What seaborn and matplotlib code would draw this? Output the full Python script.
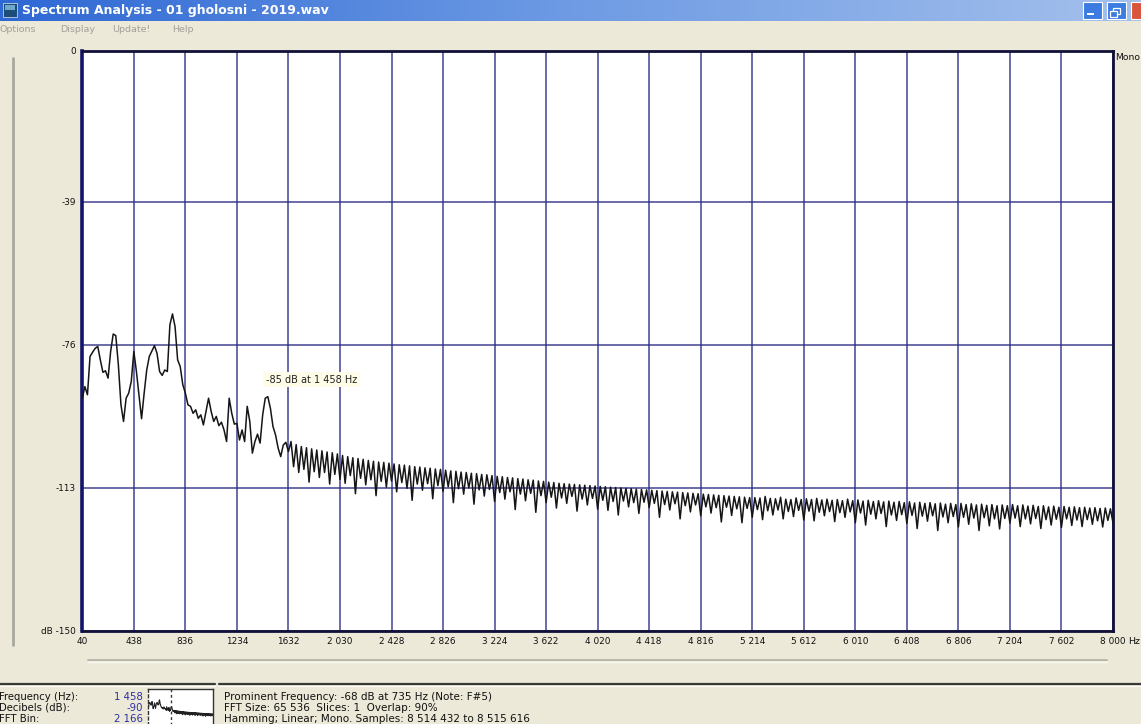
import numpy as np
import pandas as pd
import matplotlib
matplotlib.use("Agg")
import matplotlib.pyplot as plt
import seaborn as sns
from matplotlib.lines import Line2D
from matplotlib.patches import Rectangle
from matplotlib.colors import LinearSegmentedColormap

# ---------------------------------------------------------------------------
# Spectrum values (dB), one per FFT display bin starting at 40 Hz
# ---------------------------------------------------------------------------
BIN_START_HZ = 40.0
BIN_STEP_HZ = 19.9

# 40 Hz .. 1632 Hz: low band with the voice harmonics
db_low = [
    -89.8, -86.8, -88.9, -79.0, -77.9, -76.9, -76.4, -79.9, -83.1, -82.7,
    -84.6, -77.7, -73.2, -73.6, -81.2, -91.5, -95.8, -89.8, -88.5, -85.5,
    -77.7, -82.9, -88.9, -95.1, -88.5, -82.5, -79.0, -77.6, -76.2, -78.2,
    -82.9, -83.9, -82.5, -82.9, -70.8, -68.0, -71.3, -79.9, -81.6, -86.3,
    -88.5, -91.5, -91.9, -93.7, -92.8, -95.0, -94.1, -96.7, -93.2, -89.8,
    -93.2, -95.8, -94.5, -96.9, -96.0, -98.0, -101.0, -89.8, -93.7, -96.5,
    -96.3, -100.6, -98.0, -101.0, -91.9, -95.8, -104.0, -101.0, -99.1, -101.4,
    -94.1, -89.8, -89.4, -92.4, -97.1, -99.3, -102.7, -104.9, -101.9, -101.2,
    -103.6,
]

# 1632 Hz .. 3224 Hz
db_mid_low = [
    -101.0, -107.5, -101.8, -109.0, -102.3, -108.2, -102.6, -111.5, -102.9, -108.8,
    -103.2, -110.3, -103.4, -109.0, -103.7, -112.0, -103.9, -109.5, -104.2, -110.8,
    -104.6, -111.8, -104.9, -109.8, -105.2, -114.5, -105.4, -110.5, -105.6, -112.2,
    -105.9, -110.9, -106.1, -115.0, -106.3, -111.3, -106.4, -112.8, -106.6, -111.2,
    -106.8, -114.0, -107.0, -111.6, -107.1, -113.1, -107.3, -116.2, -107.5, -112.0,
    -107.6, -113.6, -107.8, -111.9, -107.9, -115.8, -108.1, -112.4, -108.2, -113.9,
    -108.4, -112.7, -108.6, -116.8, -108.7, -113.2, -108.9, -114.6, -109.0, -113.0,
    -109.2, -117.2, -109.3, -113.5, -109.5, -115.1, -109.6, -113.4, -109.8, -116.5,
]

# 3224 Hz .. 4816 Hz
db_mid = [
    -110.0, -114.2, -110.1, -115.9, -110.3, -114.0, -110.4, -118.6, -110.6, -114.6,
    -110.7, -116.3, -110.9, -114.4, -111.0, -119.3, -111.2, -115.0, -111.3, -116.8,
    -111.5, -115.4, -111.6, -118.2, -111.8, -115.6, -111.9, -117.0, -112.0, -115.2,
    -112.1, -119.0, -112.2, -115.9, -112.3, -117.4, -112.4, -115.7, -112.5, -118.5,
    -112.6, -116.2, -112.7, -118.8, -112.8, -116.5, -112.9, -120.0, -113.0, -116.4,
    -113.1, -117.9, -113.2, -116.8, -113.3, -119.6, -113.4, -116.7, -113.5, -118.1,
    -113.6, -117.0, -113.7, -120.6, -113.8, -117.3, -113.9, -118.7, -114.0, -117.1,
    -114.1, -121.0, -114.2, -117.6, -114.3, -119.2, -114.4, -117.4, -114.5, -120.2,
]

# 4816 Hz .. 6408 Hz
db_mid_high = [
    -114.6, -117.9, -114.7, -119.5, -114.8, -118.1, -114.9, -121.8, -115.0, -118.0,
    -115.1, -120.1, -115.2, -118.4, -115.3, -122.0, -115.4, -118.3, -115.5, -120.6,
    -115.5, -118.6, -115.6, -121.2, -115.2, -118.9, -115.7, -120.0, -115.8, -118.7,
    -115.4, -121.0, -115.9, -119.1, -116.0, -120.4, -115.6, -118.8, -116.0, -121.3,
    -115.8, -119.0, -116.0, -121.5, -115.7, -119.3, -116.1, -120.2, -115.9, -119.1,
    -116.2, -121.7, -116.0, -119.4, -116.3, -120.6, -115.9, -119.2, -116.3, -122.0,
    -116.1, -119.5, -116.4, -122.6, -116.2, -119.8, -116.5, -121.0, -116.3, -119.6,
    -116.6, -123.0, -116.4, -120.0, -116.7, -121.4, -116.5, -119.9, -116.8, -122.2,
]

# 6408 Hz .. 8000 Hz
db_high = [
    -116.6, -120.1, -116.9, -123.5, -116.7, -120.3, -117.0, -121.6, -116.8, -120.2,
    -117.1, -124.0, -116.9, -120.5, -117.2, -122.0, -117.0, -120.4, -117.3, -123.1,
    -117.0, -120.6, -117.3, -122.4, -117.1, -120.8, -117.4, -124.0, -117.2, -120.7,
    -117.5, -122.8, -117.3, -121.0, -117.6, -123.6, -117.4, -120.9, -117.6, -122.1,
    -117.3, -120.8, -117.6, -123.0, -117.4, -121.0, -117.7, -122.3, -117.5, -120.9,
    -117.8, -123.5, -117.6, -121.2, -117.9, -122.6, -117.7, -121.1, -118.0, -123.2,
    -117.8, -121.0, -118.0, -122.7, -117.9, -121.3, -118.1, -123.0, -118.0, -121.2,
    -118.2, -122.4, -118.1, -121.5, -118.3, -123.1, -118.2, -121.4, -118.4, -122.0,
]

x_ticks = [40, 438, 836, 1234, 1632, 2030, 2428, 2826, 3224, 3622, 4020,
           4418, 4816, 5214, 5612, 6010, 6408, 6806, 7204, 7602, 8000]
x_tick_labels = ["40", "438", "836", "1234", "1632", "2 030", "2 428", "2 826",
                 "3 224", "3 622", "4 020", "4 418", "4 816", "5 214", "5 612",
                 "6 010", "6 408", "6 806", "7 204", "7 602", "8 000"]
y_ticks = [0, -39, -76, -113, -150]
y_tick_labels = ["0", "-39", "-76", "-113", "dB -150"]

cursor_hz, cursor_db = 1458, -85
window_title = "Spectrum Analysis - 01 gholosni - 2019.wav"
menu_items = ["Options", "Display", "Update!", "Help"]
status_labels = ["Frequency (Hz):", "Decibels (dB):", "FFT Bin:"]
status_values = ["1 458", "-90", "2 166"]
info_lines = [
    "Prominent Frequency: -68 dB at 735 Hz (Note: F#5)",
    "FFT Size: 65 536  Slices: 1  Overlap: 90%",
    "Hamming; Linear; Mono. Samples: 8 514 432 to 8 515 616",
]

db_all = db_low + db_mid_low + db_mid + db_mid_high + db_high
spec = pd.DataFrame({
    "freq": BIN_START_HZ + BIN_STEP_HZ * np.arange(len(db_all)),
    "db": db_all,
})

# ---------------------------------------------------------------------------
sns.set_theme(style="white")
plt.rcParams["font.family"] = ["DejaVu Sans"]

W, H = 1141, 724
BG = "#ECE9D8"
NAVY = "#2E2E86"
fig = plt.figure(figsize=(W / 100, H / 100), dpi=100, facecolor=BG)


def fx(x):
    return x / W


def fy(y):
    return 1 - y / H


def fline(xs, ys, color, lw=1.0, ls="-"):
    fig.add_artist(Line2D([fx(v) for v in xs], [fy(v) for v in ys],
                          color=color, lw=lw, ls=ls, transform=fig.transFigure))


def frect(x0, y0, x1, y1, fc, ec="none", lw=0.0):
    fig.add_artist(Rectangle((fx(x0), fy(y1)), fx(x1) - fx(x0), fy(y0) - fy(y1),
                             facecolor=fc, edgecolor=ec, lw=lw,
                             transform=fig.transFigure))


# window title bar
tb = fig.add_axes([0, fy(21), 1, 21 / H])
grad = LinearSegmentedColormap.from_list("title", ["#2E68D4", "#6E9BE4", "#A4C0EC"])
tb.imshow(np.linspace(0, 1, 256)[None, :], cmap=grad, aspect="auto",
          extent=(0, 1, 0, 1))
tb.set_axis_off()
frect(3, 3, 17, 17, "#1D4E7A", ec="#BFD0EA", lw=0.6)
frect(5, 5, 15, 10, "#6FA8C8")
fig.text(fx(22), fy(10.5), window_title, color="white", fontsize=9.0,
         fontweight="bold", ha="left", va="center")
for x0, col in [(1083, "#3C7BE0"), (1107, "#3C7BE0"), (1131, "#D9553D")]:
    frect(x0, 2, x0 + 19, 19, col, ec="white", lw=0.8)
frect(1087, 13, 1094, 15, "white")
frect(1113, 8, 1120, 14, "none", ec="white", lw=0.9)
frect(1110, 11, 1117, 17, "#3C7BE0", ec="white", lw=0.9)

# menu bar
for label, x0 in zip(menu_items, [0, 60, 112, 172]):
    fig.text(fx(x0), fy(30), label, color="#A2A09A", fontsize=6.8,
             ha="left", va="center")

# slider track on the left
fline([13, 13], [58, 645], "#A9A89E", lw=2.0)

# main spectrum axes
ax = fig.add_axes([fx(82.3), fy(631), (1113 - 82.3) / W, (631 - 51) / H])
ax.set_facecolor("white")
sns.lineplot(data=spec, x="freq", y="db", ax=ax, color="#151515",
             linewidth=1.1, zorder=3)
ax.set_xlim(40, 8000)
ax.set_ylim(-150, 0)
ax.set_xticks(x_ticks)
ax.set_xticklabels(x_tick_labels)
ax.set_yticks(y_ticks)
ax.set_yticklabels(y_tick_labels)
ax.set_xlabel("")
ax.set_ylabel("")
ax.grid(True, color=NAVY, linewidth=1.1, alpha=0.9, zorder=1)
for side in ["top", "right", "bottom"]:
    ax.spines[side].set_color("#101038")
    ax.spines[side].set_linewidth(2.0)
ax.spines["left"].set_color("#14146A")
ax.spines["left"].set_linewidth(2.6)
ax.tick_params(axis="both", direction="out", length=3, width=0.8,
               color="#333333", labelsize=6.4, labelcolor="#111111", pad=1.5)
ax.text(cursor_hz, cursor_db, "-85 dB at 1 458 Hz", fontsize=7, color="#222222",
        ha="left", va="center", zorder=4,
        bbox=dict(boxstyle="square,pad=0.25", facecolor="#FFFDE8",
                  edgecolor="none"))

fig.text(fx(1128), fy(642), "Hz", fontsize=6.8, color="#111111",
         ha="left", va="center")
fig.text(fx(1115), fy(58), "Mono", fontsize=6.6, color="#111111",
         ha="left", va="center")

# scroll track under the plot
fline([88, 1107], [660, 660], "#B9B7AA", lw=1.4)
fline([88, 1107], [662, 662], "#FAFAF5", lw=1.0)

# status panels
fline([0, 215], [683.5, 683.5], "#3A3A36", lw=1.6)
fline([219, 1141], [683.5, 683.5], "#3A3A36", lw=1.6)
fline([0, 215], [685.5, 685.5], "#FFFFFF", lw=0.8)
fline([219, 1141], [685.5, 685.5], "#FFFFFF", lw=0.8)

for i, (lab, val) in enumerate(zip(status_labels, status_values)):
    yy = 697 + 11 * i
    fig.text(fx(-1), fy(yy), lab, fontsize=7.3, color="#111111",
             ha="left", va="center")
    fig.text(fx(143), fy(yy), val, fontsize=7.3, color="#2D2DA0",
             ha="right", va="center")

for i, line in enumerate(info_lines):
    fig.text(fx(224), fy(697 + 11 * i), line, fontsize=7.5, color="#111111",
             ha="left", va="center")

# miniature overview of the spectrum
mini = fig.add_axes([fx(148), fy(726), (213 - 148) / W, (726 - 689) / H])
mini.set_facecolor("white")
sns.lineplot(data=spec, x="freq", y="db", ax=mini, color="#222222",
             linewidth=0.8)
mini.set_xlim(40, 4000)
mini.set_ylim(-150, -34)
mini.set_xticks([])
mini.set_yticks([])
mini.set_xlabel("")
mini.set_ylabel("")
mini.spines["left"].set_linestyle((0, (2, 2)))
mini.spines["left"].set_color("#333333")
mini.spines["top"].set_color("#333333")
mini.spines["right"].set_color("#333333")
mini.spines["bottom"].set_visible(False)
for sp in ["left", "top", "right"]:
    mini.spines[sp].set_linewidth(1.0)
mini.axvline(cursor_hz, color="#333333", lw=1.0, ls=(0, (2, 2)))

fig.savefig("out.png", dpi=100, facecolor=BG)
